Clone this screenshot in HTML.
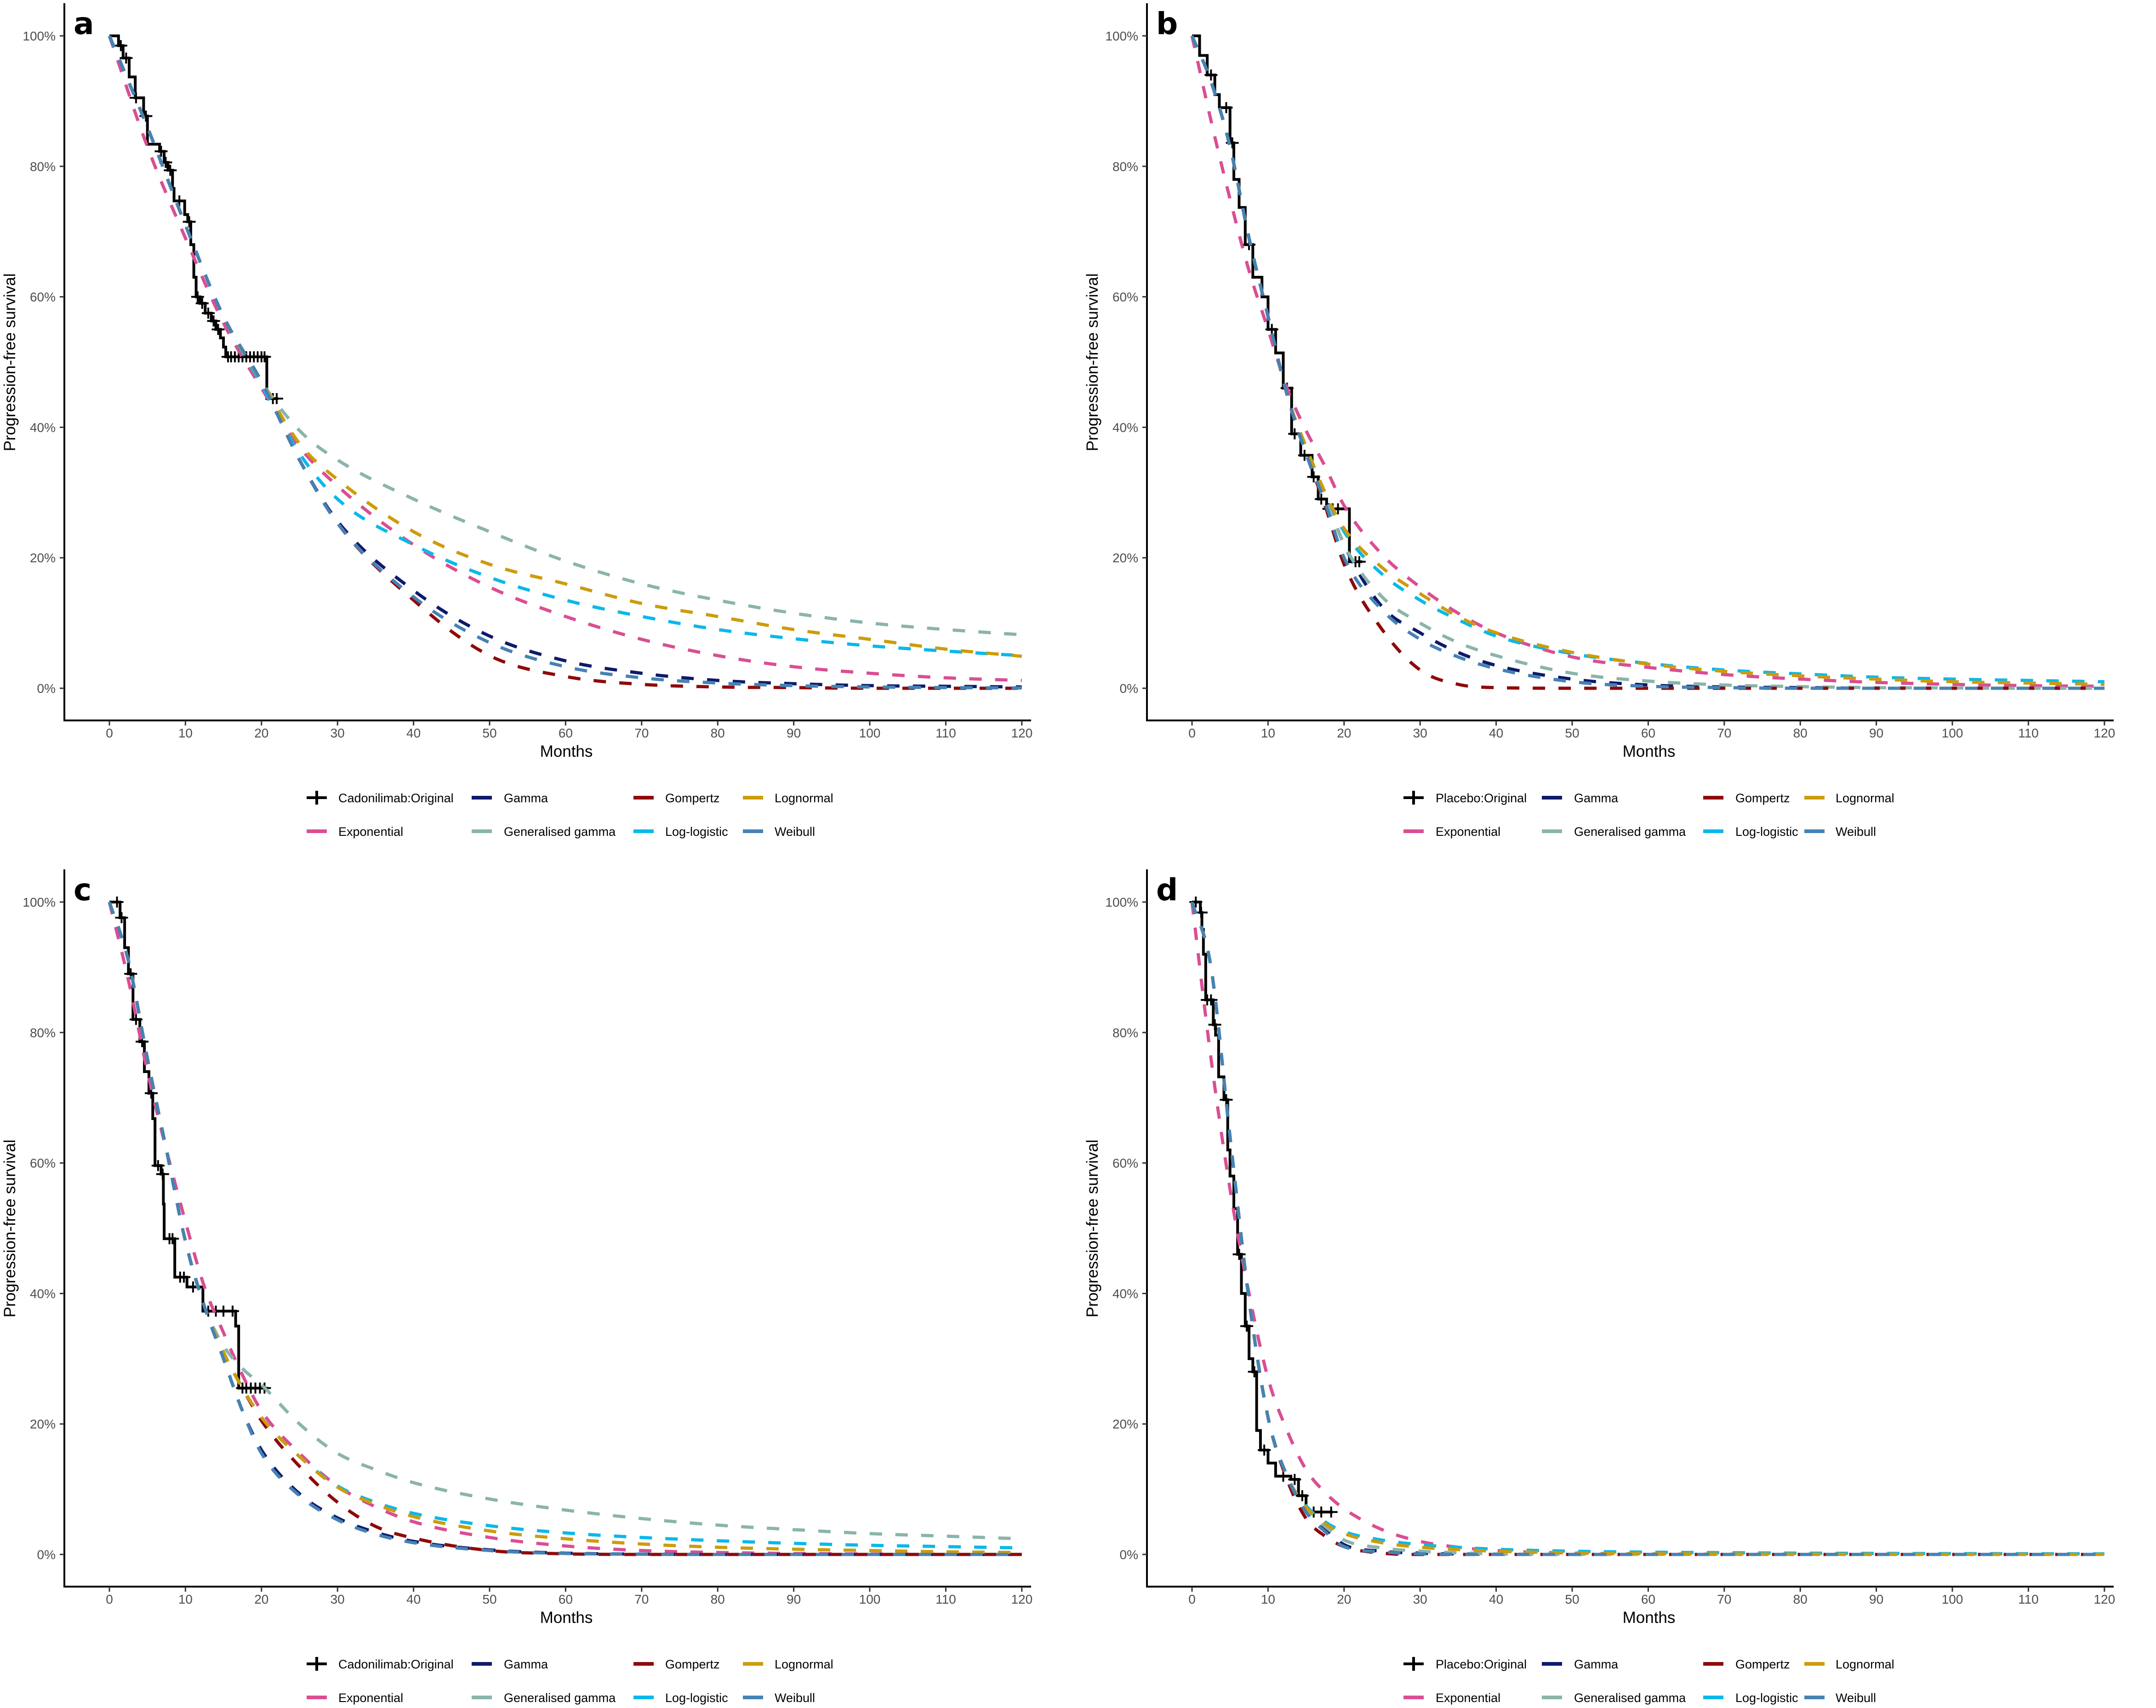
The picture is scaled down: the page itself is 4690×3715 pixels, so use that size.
<!DOCTYPE html>
<html><head><meta charset="utf-8">
<style>
html,body{margin:0;padding:0;background:#fff;}
svg{display:block;font-family:"Liberation Sans",Arial,sans-serif;}
</style></head>
<body>
<svg id="fig" xmlns="http://www.w3.org/2000/svg" width="4690" height="3715" viewBox="0 0 4690 3715"></svg>
<script>
// ---------- DATA ----------
const tA = [0,5,10,15,20,25,30,40,50,60,70,80,90,100,110,120];
const aExp   = [100,83,69,56,46,37,31,22,15.5,11,7.5,5,3.3,2.3,1.6,1.2];
const aGamma = [100,86,71,57,47,35,25.6,15,8,4.2,2.3,1.2,0.7,0.4,0.3,0.2];
const aGG    = [100,86,71,57,47,39.5,35,29,24,19.5,16,13.5,11.5,10,9,8.2];
const aGomp  = [100,86,71,57,47,35,25.3,13.5,5,1.8,0.6,0.2,0.1,0,0,0];
const aLL    = [100,86,71,57,46.5,36,29,22,17,13.5,11,9,7.6,6.5,5.7,5];
const aLN    = [100,86,71,57,47,37.5,32,24,19,16,13,11,9,7.5,6,4.9];
const aWeib  = [100,86,71,57,47,35,25.3,14,7,3.3,1.6,0.8,0.4,0.2,0.1,0.05];
const kmTimesA = [0,1.2,1.8,2.6,3.4,4.5,5.0,6.6,7.2,7.7,8.3,8.5,9.9,10.3,10.7,11.1,11.4,11.9,12.6,13.4,14.0,14.6,15.0,15.3,20.7];
const kmSurvA  = [100,98.5,96.6,93.7,90.5,87.7,83.4,82.3,80.6,79.4,76.6,74.7,72.6,71.5,68,63,60,59,57.5,56.3,55,53.7,52.3,50.8,44.4];
const kmEndA = 22.2;
const censorA = [1.5,2.2,3.5,4.8,6.8,7.4,8.0,9.2,10.5,11.6,12.2,13,13.7,14.3,15.6,16,16.5,17,17.5,18,18.5,19,19.5,20,20.4,21.5,22.0];

const tB = [0,2.5,5,7.5,10,12.5,15,17.5,20,25,30,35,40,50,60,70,80,90,100,110,120];
const bExp   = [100,87,75,64,55,46,39.5,34,28,20.5,15.5,11.5,8.5,4.8,3.2,2.1,1.4,0.9,0.6,0.4,0.3];
const bGamma = [100,93,83,69,57,45,36,29.5,22,12.5,8.5,5.5,3.5,1.4,0.5,0.2,0.1,0,0,0,0];
const bGG    = [100,93,83,69,57,45,36,29.5,22,14,10,7,5,2.3,1.1,0.5,0.25,0.1,0.05,0,0];
const bGomp  = [100,93,83,69,57,45,36,28,19,9,2.8,0.6,0.1,0,0,0,0,0,0,0,0];
const bLL    = [100,93,83,69,57,45,37,30,24,17.5,13.5,10.5,8,5.3,3.8,2.8,2.2,1.7,1.4,1.2,1.0];
const bLN    = [100,93,83,69,57,45,37,30,24.5,18.5,14.5,11,8.5,5.5,3.7,2.6,1.9,1.4,1.0,0.8,0.6];
const bWeib  = [100,93,83,69,57,45,36,28.5,20,12,7.5,4.8,3,1,0.3,0.1,0,0,0,0,0];
const kmTimesB = [0,1,2,3,3.6,5,5.5,6.2,7,8,9.2,10,11,12,13.1,14.3,15.8,16.6,17.7,20.7];
const kmSurvB  = [100,97,94,91,89,83.6,78,73.7,68,63,60,55,51.4,46,39,35.7,32.4,29,27.5,19.4];
const kmEndB = 22.4;
const censorB = [2.5,4.5,5.3,7.5,10.5,12.5,13.5,14.8,16,17,18,18.5,19.2,21.5,22];

const tC = [0,2.5,5,7.5,10,12.5,15,17.5,20,25,30,35,40,50,60,70,80,90,100,110,120];
const cExp   = [100,88,74,62,51,41,34,27.5,22,15.5,10.5,7.3,5,2.6,1.3,0.6,0.3,0.15,0.07,0.03,0.02];
const cGamma = [100,91,76,62,48,38,30,22,16,9.3,5.6,3.4,2,0.7,0.2,0.05,0,0,0,0,0];
const cGG    = [100,91,76,62,48,38,32,28.5,26,20,15.5,13,11,8.5,6.8,5.5,4.5,3.8,3.2,2.8,2.4];
const cGomp  = [100,91,76,62,48,38,31,25.5,20.5,13.5,8,4.3,2.5,0.6,0.1,0,0,0,0,0,0];
const cLL    = [100,91,76,62,48,38,31,25.5,21,15,10.5,8,6.3,4.4,3.3,2.6,2.1,1.7,1.4,1.2,1.0];
const cLN    = [100,91,76,62,48,38,31,25.5,21,15,10.3,7.7,5.8,3.6,2.4,1.6,1.1,0.8,0.6,0.4,0.3];
const cWeib  = [100,91,76,62,48,38,30,22,15.5,9,5.3,3.1,1.8,0.6,0.15,0.04,0,0,0,0,0];
const kmTimesC = [0,1.4,2.0,2.5,3.1,4,4.6,5.2,5.7,6,6.8,7.1,7.2,8.6,10.2,12.3,16.6,17];
const kmSurvC  = [100,97.6,93,89,82,78.6,74,70.7,66.8,59.6,58.3,53.7,48.4,42.5,41,37.3,35,25.5];
const kmEndC = 20.8;
const censorC = [1,1.6,2.8,3.5,4.3,5.5,6.4,7.0,7.9,8.3,9.3,9.8,11,13,14,15,16.2,17.5,18,18.6,19.2,19.8,20.4];

const tD = [0,2.5,5,7.5,10,12.5,15,17.5,20,25,30,35,40,50,60,70,80,90,100,110,120];
const dExp   = [100,76,56,40,27,19,13,9.5,7,3.8,2,1.1,0.6,0.2,0.06,0.02,0,0,0,0,0];
const dGamma = [100,90,64,39,21,12,7,4,1.5,0.5,0.2,0.08,0.03,0,0,0,0,0,0,0,0];
const dGG    = [100,90,64,39,21,12,7,4.3,2.2,1,0.5,0.25,0.1,0.03,0,0,0,0,0,0,0];
const dGomp  = [100,90,64,39,21,11.5,5.5,2.8,1.2,0.2,0,0,0,0,0,0,0,0,0,0,0];
const dLL    = [100,90,64,39,21,12,7.5,5,3.5,2.2,1.5,1.1,0.8,0.5,0.35,0.27,0.2,0.16,0.13,0.11,0.1];
const dLN    = [100,90,64,39,21,12,7.3,4.7,3.2,1.8,1.1,0.75,0.5,0.25,0.12,0.07,0.05,0.03,0.02,0.01,0.01];
const dWeib  = [100,90,64,39,21,12,6.5,3.5,1.2,0.4,0.1,0.03,0,0,0,0,0,0,0,0,0];
const kmTimesD = [0,1.1,1.3,1.5,1.8,2.8,3.1,3.5,4.2,4.7,5,5.5,6,6.5,7,7.5,8,8.5,9,10,11,13,14,15];
const kmSurvD  = [100,98.4,95.8,92,85,81.2,79.6,73.2,69.7,62,58,53,46,40,35,30,28,19,16,14,12,11.5,9,6.5];
const kmEndD = 18.5;
const censorD = [0.5,1.2,2,2.5,3,4.5,6.2,7.2,8.2,9.5,12,13.5,14.5,16,17,18.3];

const xTicks = [0,10,20,30,40,50,60,70,80,90,100,110,120];
const yTicks = [0,20,40,60,80,100];
const yTickLabels = ["0%","20%","40%","60%","80%","100%"];

// ---------- LAYOUT ----------
const NS = "http://www.w3.org/2000/svg";
const svg = document.getElementById('fig');
const X0 = 238, XS = 16.54, Y100 = 78, Y0 = 1497;
function xs(m){ return X0 + m*XS; }
function ys(s){ return Y0 - (Y0-Y100)*s/100; }
const COLORS = {exp:"#DA4E93",gamma:"#0D1A6B",gg:"#8AB4AC",gomp:"#8E0A0A",ll:"#0BB8EA",ln:"#CC9C0C",weib:"#4682B4"};

function el(tag, attrs, parent){
  const e = document.createElementNS(NS, tag);
  for (const k in attrs) e.setAttribute(k, attrs[k]);
  parent.appendChild(e);
  return e;
}
function monoPath(t, v){
  const n = t.length, d = [], m = [];
  for (let i=0;i<n-1;i++) d.push((v[i+1]-v[i])/(t[i+1]-t[i]));
  m[0]=d[0]; m[n-1]=d[n-2];
  for (let i=1;i<n-1;i++){ m[i] = (d[i-1]*d[i]<=0)?0:(d[i-1]+d[i])/2; }
  for (let i=0;i<n-1;i++){
    if (d[i]===0){m[i]=0;m[i+1]=0;continue;}
    const a=m[i]/d[i], b=m[i+1]/d[i], s=a*a+b*b;
    if (s>9){const tt=3/Math.sqrt(s); m[i]=tt*a*d[i]; m[i+1]=tt*b*d[i];}
  }
  let p = "M"+xs(t[0]).toFixed(1)+","+ys(v[0]).toFixed(1);
  for (let i=0;i<n-1;i++){
    const h=t[i+1]-t[i];
    for (let k=1;k<=12;k++){
      const u=k/12, h00=2*u*u*u-3*u*u+1, h10=u*u*u-2*u*u+u, h01=-2*u*u*u+3*u*u, h11=u*u*u-u*u;
      const val=h00*v[i]+h10*h*m[i]+h01*v[i+1]+h11*h*m[i+1];
      p += "L"+xs(t[i]+u*h).toFixed(1)+","+ys(Math.max(0,val)).toFixed(1);
    }
  }
  return p;
}
function stepAt(times, surv, tt){
  let s = surv[0];
  for (let i=0;i<times.length;i++) if (times[i]<=tt) s = surv[i];
  return s;
}

function panel(cfg){
  const g = el('g', {transform:`translate(${cfg.ox},${cfg.oy})`}, svg);
  
  

  let p = "M"+xs(cfg.kmT[0])+","+ys(cfg.kmS[0]);
  for (let i=1;i<cfg.kmT.length;i++){
    p += "H"+xs(cfg.kmT[i]).toFixed(1)+"V"+ys(cfg.kmS[i]).toFixed(1);
  }
  p += "H"+xs(cfg.kmEnd).toFixed(1);
  const km = el('path', {d:p, fill:"none", stroke:"#000", "stroke-width":6, "stroke-linejoin":"miter"}, g);
  
  
  cfg.censor.forEach(c=>{
    const cx = xs(c), cy = ys(stepAt(cfg.kmT, cfg.kmS, c));
    const mk = el('path', {d:`M${cx-14},${cy}H${cx+14}M${cx},${cy-12}V${cy+12}`, stroke:"#000", "stroke-width":4}, g);
    
    
  });

  const series = [["exp",cfg.exp],["gamma",cfg.gamma],["gg",cfg.gg],["gomp",cfg.gomp],["ll",cfg.ll],["ln",cfg.ln],["weib",cfg.weib]];
  series.forEach(([k,v])=>{
    const c = el('path', {d:monoPath(cfg.t, v), fill:"none", stroke:COLORS[k], "stroke-width":7, "stroke-dasharray":"27 29"}, g);
    
    
  });

  const ya = el('line', {x1:140, y1:7, x2:140, y2:1569, stroke:"#000", "stroke-width":4}, g);
  
  
  const xa = el('line', {x1:138, y1:1567, x2:2243, y2:1567, stroke:"#000", "stroke-width":4}, g);
  
  
  yTicks.forEach((v,i)=>{
    const tk = el('line', {x1:130, y1:ys(v), x2:140, y2:ys(v), stroke:"#333", "stroke-width":3}, g);
    
    
    const tl = el('text', {x:121, y:ys(v)+10, "text-anchor":"end", "font-size":28, fill:"#4d4d4d"}, g);
    tl.textContent = yTickLabels[i];
    
    
  });
  xTicks.forEach(v=>{
    const tk = el('line', {x1:xs(v), y1:1567, x2:xs(v), y2:1578, stroke:"#333", "stroke-width":3}, g);
    
    
    const tl = el('text', {x:xs(v), y:1604, "text-anchor":"middle", "font-size":28, fill:"#4d4d4d"}, g);
    tl.textContent = String(v);
    
    
  });
  const xt = el('text', {x:1232, y:1646, "text-anchor":"middle", "font-size":35, fill:"#000"}, g);
  xt.textContent = "Months";
  
  
  const yt = el('text', {x:0, y:0, transform:"translate(33,788) rotate(-90)", "text-anchor":"middle", "font-size":35, fill:"#000"}, g);
  yt.textContent = "Progression-free survival";
  
  
  const lt = el('text', {x:160, y:74, "font-size":66, "font-weight":"bold", fill:"#000", "font-family":"'DejaVu Sans','Liberation Sans',sans-serif"}, g);
  lt.textContent = cfg.letter;
  
  

  const L = cfg.leg;
  const items = [
    [L.k1, L.t1, 1735, cfg.origLabel, "orig"],
    [L.k2, L.t2, 1735, "Gamma", "gamma"],
    [L.k3, L.t3, 1735, "Gompertz", "gomp"],
    [L.k4, L.t4, 1735, "Lognormal", "ln"],
    [L.k1, L.t1, 1808, "Exponential", "exp"],
    [L.k2, L.t2, 1808, "Generalised gamma", "gg"],
    [L.k3, L.t3, 1808, "Log-logistic", "ll"],
    [L.k4, L.t4, 1808, "Weibull", "weib"]
  ];
  items.forEach(([kx, tx, y, label, key])=>{
    const lg = el('g', {}, g);
    
    
    if (key==="orig"){
      el('path', {d:`M${kx},${y}H${kx+44}M${kx+22},${y-15}V${y+15}`, stroke:"#000", "stroke-width":6}, lg);
    } else {
      el('line', {x1:kx, y1:y, x2:kx+44, y2:y, stroke:COLORS[key], "stroke-width":8}, lg);
    }
    const tt = el('text', {x:tx, y:y+10, "font-size":27, fill:"#000"}, lg);
    tt.textContent = label;
  });
}

const legA = {k1:667,t1:736,k2:1026,t2:1096,k3:1378,t3:1447,k4:1616,t4:1685};
const legB = {k1:698,t1:768,k2:999,t2:1069,k3:1350,t3:1420,k4:1570,t4:1638};

panel({letter:"a", ox:0, oy:0, t:tA, exp:aExp, gamma:aGamma, gg:aGG, gomp:aGomp, ll:aLL, ln:aLN, weib:aWeib,
  kmT:kmTimesA, kmS:kmSurvA, kmEnd:kmEndA, censor:censorA, origLabel:"Cadonilimab:Original", leg:legA});
panel({letter:"b", ox:2355, oy:0, t:tB, exp:bExp, gamma:bGamma, gg:bGG, gomp:bGomp, ll:bLL, ln:bLN, weib:bWeib,
  kmT:kmTimesB, kmS:kmSurvB, kmEnd:kmEndB, censor:censorB, origLabel:"Placebo:Original", leg:legB});
panel({letter:"c", ox:0, oy:1884, t:tC, exp:cExp, gamma:cGamma, gg:cGG, gomp:cGomp, ll:cLL, ln:cLN, weib:cWeib,
  kmT:kmTimesC, kmS:kmSurvC, kmEnd:kmEndC, censor:censorC, origLabel:"Cadonilimab:Original", leg:legA});
panel({letter:"d", ox:2355, oy:1884, t:tD, exp:dExp, gamma:dGamma, gg:dGG, gomp:dGomp, ll:dLL, ln:dLN, weib:dWeib,
  kmT:kmTimesD, kmS:kmSurvD, kmEnd:kmEndD, censor:censorD, origLabel:"Placebo:Original", leg:legB});
</script>
</body></html>
